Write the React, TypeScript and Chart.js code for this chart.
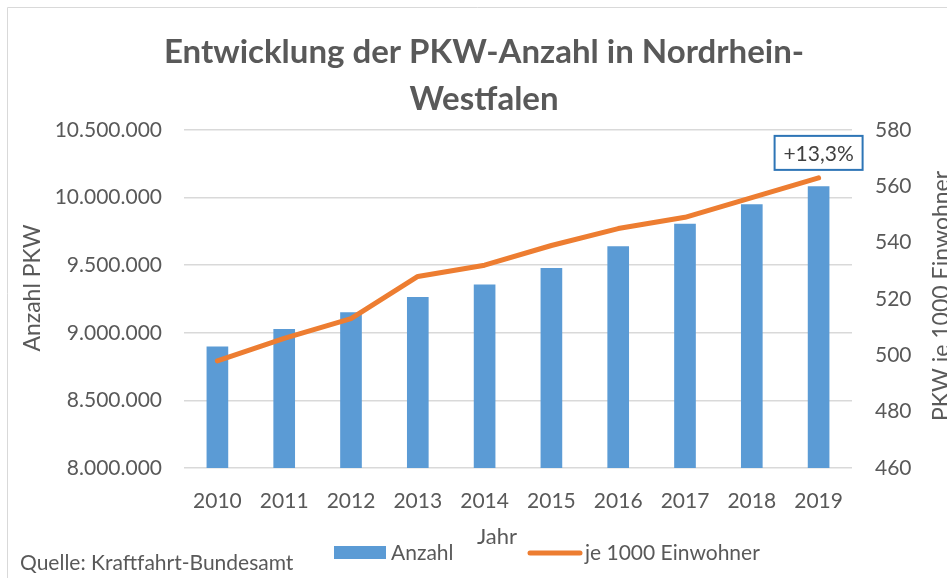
import React, { useEffect, useRef } from 'react';
import { Chart, registerables } from 'chart.js';

Chart.register(...registerables);

const years = ['2010', '2011', '2012', '2013', '2014', '2015', '2016', '2017', '2018', '2019'];
const anzahl = [8897000, 9026000, 9149000, 9262000, 9354000, 9477000, 9637000, 9805000, 9948000, 10081000];
const je1000 = [498, 506, 513, 528, 532, 539, 545, 549, 556, 563];
const leftTickValues = [8000000, 8500000, 9000000, 9500000, 10000000, 10500000];
const rightTickValues = [460, 480, 500, 520, 540, 560, 580];
const titleLines = ['Entwicklung der PKW-Anzahl in Nordrhein-', 'Westfalen'];
const seriesNames = ['Anzahl', 'je 1000 Einwohner'];
const leftAxisTitle = 'Anzahl PKW';
const rightAxisTitle = 'PKW je 1000 Einwohner';
const xAxisTitle = 'Jahr';
const changeLabel = '+13,3%';
const sourceText = 'Quelle: Kraftfahrt-Bundesamt';

const TEXT = '#595959';
const BLUE = '#5B9BD5';
const ORANGE = '#ED7D31';
const GRID = '#D9D9D9';
const FONT = 'Lato';

const fmt = (v: number) => String(Math.round(v)).replace(/\B(?=(\d{3})+(?!\d))/g, '.');

const decorPlugin = {
  id: 'decor',
  afterDraw(chart: any) {
    const ctx = chart.ctx as CanvasRenderingContext2D;
    const xs = chart.scales.x;
    const y1 = chart.scales.y1;
    ctx.save();

    // frame
    ctx.strokeStyle = GRID;
    ctx.lineWidth = 1;
    ctx.beginPath();
    ctx.moveTo(7.5, 600);
    ctx.lineTo(7.5, 7.5);
    ctx.lineTo(960, 7.5);
    ctx.stroke();

    // title
    ctx.fillStyle = TEXT;
    ctx.font = `bold 33px ${FONT}`;
    ctx.textAlign = 'center';
    ctx.textBaseline = 'alphabetic';
    ctx.fillText(titleLines[0], 484, 63);
    ctx.fillText(titleLines[1], 484, 110);

    // left axis title
    ctx.font = `23px ${FONT}`;
    ctx.save();
    ctx.translate(40, 288);
    ctx.rotate(-Math.PI / 2);
    ctx.textAlign = 'center';
    ctx.fillText(leftAxisTitle, 0, 0);
    ctx.restore();

    // right axis title (clipped at edge)
    ctx.save();
    ctx.translate(949, 296);
    ctx.rotate(-Math.PI / 2);
    ctx.textAlign = 'center';
    ctx.fillText(rightAxisTitle, 0, 0);
    ctx.restore();

    // x axis title
    ctx.font = `22px ${FONT}`;
    ctx.textAlign = 'center';
    ctx.fillText(xAxisTitle, 497, 544);

    // legend
    ctx.font = `21px ${FONT}`;
    ctx.textAlign = 'left';
    ctx.fillStyle = BLUE;
    ctx.fillRect(334, 546, 52, 13);
    ctx.fillStyle = TEXT;
    ctx.fillText(seriesNames[0], 391, 560);
    ctx.strokeStyle = ORANGE;
    ctx.lineWidth = 5;
    ctx.lineCap = 'round';
    ctx.beginPath();
    ctx.moveTo(530, 553);
    ctx.lineTo(580, 553);
    ctx.stroke();
    ctx.fillText(seriesNames[1], 585, 560);

    // source
    ctx.fillText(sourceText, 20, 570);

    // annotation box over last point
    const last = je1000.length - 1;
    const cx = xs.getPixelForValue(last);
    const py = y1.getPixelForValue(je1000[last]);
    const bw = 88, bh = 34;
    const bx = cx - bw / 2;
    const by = py - 25 - bh / 2;
    ctx.fillStyle = '#FFFFFF';
    ctx.fillRect(bx, by, bw, bh);
    ctx.strokeStyle = '#2E75B6';
    ctx.lineWidth = 2;
    ctx.lineCap = 'butt';
    ctx.strokeRect(bx, by, bw, bh);
    ctx.fillStyle = '#404040';
    ctx.font = `21px ${FONT}`;
    ctx.textAlign = 'center';
    ctx.textBaseline = 'middle';
    ctx.fillText(changeLabel, cx, by + bh / 2 + 1);

    ctx.restore();
  },
};

export default function App() {
  const ref = useRef<HTMLCanvasElement | null>(null);

  useEffect(() => {
    document.body.style.margin = '0';
    const canvas = ref.current;
    if (!canvas) return;
    const tickFont = { family: FONT, size: 21 };
    const chart = new Chart(canvas, {
      type: 'bar',
      data: {
        labels: years,
        datasets: [
          {
            type: 'line',
            label: seriesNames[1],
            data: je1000,
            yAxisID: 'y1',
            borderColor: ORANGE,
            backgroundColor: ORANGE,
            borderWidth: 5,
            pointRadius: 0,
            borderCapStyle: 'round',
            borderJoinStyle: 'round',
            tension: 0,
            order: 0,
          } as any,
          {
            type: 'bar',
            label: seriesNames[0],
            data: anzahl,
            yAxisID: 'y',
            backgroundColor: BLUE,
            barThickness: 21,
            order: 1,
          } as any,
        ],
      },
      options: {
        animation: false,
        responsive: false,
        layout: { padding: { top: 130, left: 0, right: 0, bottom: 0 }, autoPadding: false } as any,
        plugins: {
          legend: { display: false },
          title: { display: false },
          tooltip: { enabled: false },
        },
        scales: {
          x: {
            grid: { display: false, drawTicks: false },
            border: { display: false },
            ticks: { color: TEXT, font: tickFont, padding: 21, maxRotation: 0, autoSkip: false },
            afterFit: (s: any) => { s.height = 110; },
          },
          y: {
            position: 'left',
            min: leftTickValues[0],
            max: leftTickValues[leftTickValues.length - 1],
            afterBuildTicks: (s: any) => { s.ticks = leftTickValues.map((v) => ({ value: v })); },
            ticks: { color: TEXT, font: tickFont, padding: 22, callback: (v: any) => fmt(Number(v)) },
            grid: { color: GRID, lineWidth: 1.5, drawTicks: false },
            border: { display: false },
            afterFit: (s: any) => { s.width = 184; },
          },
          y1: {
            position: 'right',
            min: rightTickValues[0],
            max: rightTickValues[rightTickValues.length - 1],
            afterBuildTicks: (s: any) => { s.ticks = rightTickValues.map((v) => ({ value: v })); },
            ticks: { color: TEXT, font: tickFont, padding: 23 },
            grid: { display: false, drawTicks: false },
            border: { display: false },
            afterFit: (s: any) => { s.width = 95; },
          },
        },
      } as any,
      plugins: [decorPlugin],
    });
    return () => chart.destroy();
  }, []);

  return <canvas ref={ref} width={947} height={578} style={{ display: 'block', width: 947, height: 578 }} />;
}
